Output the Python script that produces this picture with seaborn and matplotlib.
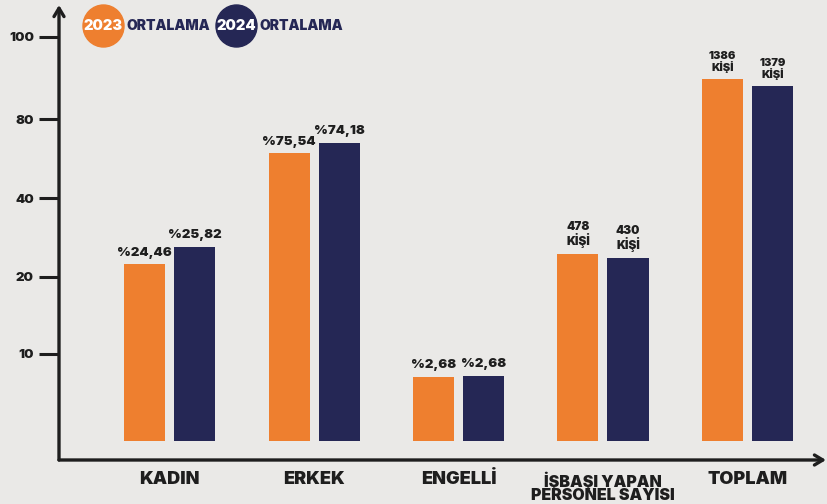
import pandas as pd
import seaborn as sns
import matplotlib.pyplot as plt
from matplotlib.patches import Ellipse

# kategoriler ve yillar
categories = ['KADIN', 'ERKEK', 'ENGELLİ', 'İŞBAŞI YAPAN\nPERSONEL SAYISI', 'TOPLAM']
years = ['2023', '2024']

# cubuk yukseklikleri (eksen birimi)
heights_2023 = [2.23, 3.63, 0.81, 2.36, 4.57]
heights_2024 = [2.45, 3.76, 0.82, 2.31, 4.48]

# cubuk ustu etiketleri
labels_2023 = ['%24,46', '%75,54', '%2,68', '478\nKİŞİ', '1386\nKİŞİ']
labels_2024 = ['%25,82', '%74,18', '%2,68', '430\nKİŞİ', '1379\nKİŞİ']

# y ekseni isaretleri
tick_pos = [1.10, 2.07, 3.06, 4.06, 5.10]
tick_labels = ['10', '20', '40', '80', '100']

ORANGE = '#EE7F2F'
NAVY = '#252755'
BG = '#EAE9E7'
DARK = '#1E1E1E'
W = 900

df = pd.DataFrame({
    'kategori': categories * 2,
    'yil': [years[0]] * len(categories) + [years[1]] * len(categories),
    'yukseklik': heights_2023 + heights_2024,
})

sns.set_theme(style='white')
plt.rcParams['font.family'] = ['Inter', 'DejaVu Sans']

fig, ax = plt.subplots(figsize=(8.27, 5.04), dpi=100)
fig.patch.set_facecolor(BG)
ax.set_facecolor(BG)
ax.set_position([59 / 827, 44 / 504, 767 / 827, 455 / 504])

sns.barplot(data=df, x='kategori', y='yukseklik', hue='yil', order=categories,
            hue_order=years, palette=[ORANGE, NAVY], width=0.693, gap=0.18,
            saturation=1, errorbar=None, legend=False, linewidth=0, ax=ax)

ax.set_xlim(-0.766, 4.544)
ax.set_ylim(-0.24, 5.50)
ax.set_xlabel('')
ax.set_ylabel('')

for side in ax.spines.values():
    side.set_visible(False)

# eksen oklari
arrow = dict(arrowstyle='->,head_length=0.5,head_width=0.3', lw=2.4, color=DARK,
             shrinkA=0, shrinkB=0, mutation_scale=12)
ax.annotate('', xy=(0, 1), xytext=(0, 0), xycoords='axes fraction', arrowprops=arrow)
ax.annotate('', xy=(1, 0), xytext=(0, 0), xycoords='axes fraction', arrowprops=arrow)

ax.set_yticks(tick_pos, tick_labels)
ax.tick_params(axis='y', left=True, length=14.4, width=2.2, color=DARK, pad=3.6,
               labelsize=9.5, labelcolor=DARK)
for t in ax.get_yticklabels():
    t.set_fontweight(W)

ax.tick_params(axis='x', length=0, pad=8, labelcolor=DARK)
for t in ax.get_xticklabels():
    t.set_fontweight(W)
    t.set_va('top')
    if '\n' in t.get_text():
        t.set_fontsize(11.5)
        t.set_linespacing(0.88)
    else:
        t.set_fontsize(13)

# deger etiketleri
for cont, labs in zip(ax.containers, [labels_2023, labels_2024]):
    texts = ax.bar_label(cont, labels=labs, padding=4, fontsize=9.5, fontweight=W,
                         color=DARK, linespacing=1.0)
    for t in texts:
        if t.get_text() in ('1386\nKİŞİ', '1379\nKİŞİ'):
            t.set_fontsize(8)
        elif 'KİŞİ' in t.get_text():
            t.set_fontsize(8.5)

# ust lejant
for cx, col, yr in [(103.5, ORANGE, '2023'), (236.5, NAVY, '2024')]:
    fig.add_artist(Ellipse((cx / 827, 1 - 26 / 504), 41 / 827, 42 / 504,
                           transform=fig.transFigure, color=col))
    fig.text(cx / 827, 1 - 26 / 504, yr, ha='center', va='center', color='white',
             fontsize=10.5, fontweight=W)
    fig.text((cx + 23.5) / 827, 1 - 26 / 504, 'ORTALAMA', ha='left', va='center',
             color=NAVY, fontsize=10, fontweight=W)

fig.savefig('out.png', dpi=100, facecolor=BG)
